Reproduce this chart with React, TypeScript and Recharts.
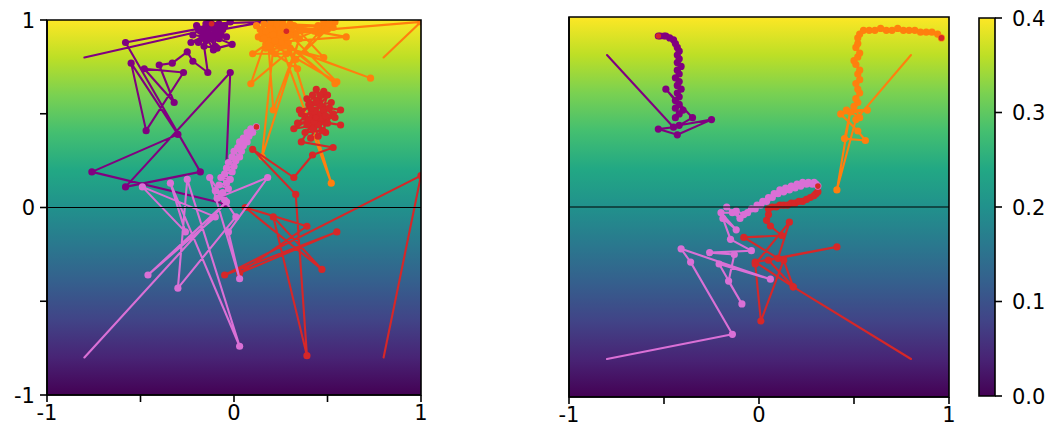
import { ReferenceArea, ReferenceLine, Scatter, ScatterChart, XAxis, YAxis } from 'recharts'

type Pt = { x: number; y: number }
const toPts = (a: number[][]): Pt[] => a.map(([x, y]) => ({ x, y }))

// axis ticks
const xTicks = [-1, -0.5, 0, 0.5, 1]
const xTickLabels = ['-1', '', '0', '', '1']
const yTicks = [-1, -0.5, 0, 0.5, 1]
const yTickLabels = ['-1', '', '0', '', '1']
const cbTicks = [0, 0.1, 0.2, 0.3, 0.4]
const cbTickLabels = ['0.0', '0.1', '0.2', '0.3', '0.4']

// left panel trajectories
const leftPurple = toPts([
  [-0.8, 0.8], [-0.18, 0.94], [-0.1, 0.97], [-0.58, 0.88], [-0.18, 0.19], [-0.58, 0.11],
  [-0.02, 0.72], [-0.05, 0.02], [-0.76, 0.19], [-0.3, 0.39], [-0.55, 0.77], [-0.47, 0.41],
  [-0.27, 0.72], [-0.48, 0.74], [-0.32, 0.56], [-0.4, 0.76], [-0.33, 0.77], [-0.25, 0.83],
  [-0.22, 0.78], [-0.14, 0.72], [-0.16, 0.86], [-0.09, 0.85], [-0.01, 0.87], [-0.13, 0.92],
  [-0.19, 0.88], [-0.06, 0.95], [0.16, 0.99], [-0.15, 0.98], [-0.22, 0.92], [-0.08, 0.9],
  [-0.12, 0.96], [-0.02, 0.99], [-0.17, 0.95], [-0.1, 0.86], [-0.14, 0.94], [-0.11, 0.91],
  [-0.2, 0.97], [-0.07, 0.93], [-0.15, 0.89], [-0.13, 0.99], [-0.09, 0.95], [-0.23, 0.88],
  [-0.04, 0.91], [-0.16, 0.93], [-0.11, 0.84], [-0.08, 0.98], [-0.19, 0.95], [-0.12, 0.9],
  [-0.14, 0.97], [-0.1, 0.93], [-0.05, 0.97], [-0.17, 0.91], [-0.12, 0.98],
])
const leftOrange = toPts([
  [0.8, 0.8], [1.0, 0.99], [0.27, 0.93], [0.2, 0.88], [0.6, 0.91], [0.25, 0.97], [0.55, 0.67],
  [0.15, 0.9], [0.73, 0.69], [0.3, 0.85], [0.52, 0.13], [0.22, 0.95], [0.15, 0.27], [0.35, 0.9],
  [0.21, 0.52], [0.18, 0.92], [0.09, 0.66], [0.28, 0.82], [0.1, 0.82], [0.32, 0.97], [0.48, 0.8],
  [0.24, 0.86], [0.5, 0.97], [0.19, 0.96], [0.45, 0.93], [0.33, 0.79], [0.54, 0.99], [0.26, 0.9],
  [0.34, 0.74], [0.17, 0.85], [0.29, 0.96], [0.47, 0.95], [0.23, 0.91], [0.54, 0.66], [0.21, 0.94],
  [0.14, 0.95], [0.2, 0.99], [0.25, 0.93], [0.17, 0.87], [0.22, 0.82], [0.29, 0.88], [0.13, 0.91],
  [0.19, 0.95], [0.26, 0.99], [0.31, 0.94], [0.16, 0.98], [0.23, 0.9], [0.2, 0.84], [0.27, 0.86],
  [0.15, 0.93], [0.24, 0.96], [0.18, 0.89], [0.3, 0.98], [0.21, 0.92], [0.12, 0.97], [0.28, 0.91],
  [0.17, 0.94], [0.25, 0.88], [0.33, 0.92], [0.19, 0.86], [0.23, 0.98], [0.45, 0.97], [0.5, 0.95],
  [0.48, 0.99], [0.53, 0.96], [0.43, 0.94], [0.51, 0.98], [0.27, 0.95], [0.16, 0.9], [0.3, 0.92],
  [0.26, 0.97], [0.22, 0.89], [0.28, 0.94],
])
const leftRed = toPts([
  [0.8, -0.8], [1.0, 0.17], [-0.05, -0.36], [0.55, -0.13], [0.03, -0.35], [0.39, -0.1], [0.06, 0.0],
  [0.47, -0.33], [0.21, -0.05], [0.39, -0.79], [0.33, 0.07], [0.1, 0.31], [0.32, 0.16], [0.42, 0.28],
  [0.53, 0.32], [0.36, 0.35], [0.45, 0.5], [0.32, 0.42], [0.5, 0.45], [0.38, 0.48], [0.47, 0.6],
  [0.42, 0.42], [0.57, 0.52], [0.4, 0.55], [0.44, 0.63], [0.49, 0.4], [0.35, 0.52], [0.52, 0.56],
  [0.46, 0.47], [0.41, 0.37], [0.48, 0.52], [0.39, 0.58], [0.45, 0.44], [0.5, 0.6], [0.43, 0.51],
  [0.46, 0.55], [0.34, 0.45], [0.54, 0.48], [0.42, 0.6], [0.47, 0.41], [0.38, 0.4], [0.51, 0.53],
  [0.44, 0.57], [0.4, 0.47], [0.57, 0.44], [0.43, 0.46], [0.48, 0.62], [0.36, 0.5], [0.49, 0.49],
  [0.41, 0.53], [0.45, 0.38], [0.53, 0.5], [0.39, 0.44], [0.46, 0.6], [0.44, 0.48],
])
const leftPink = toPts([
  [-0.8, -0.8], [-0.04, 0.03], [-0.46, -0.36], [-0.1, -0.05], [-0.49, 0.11], [-0.26, -0.13],
  [-0.34, 0.13], [0.03, -0.74], [-0.25, 0.15], [-0.3, -0.43], [0.01, -0.05], [-0.13, 0.16],
  [0.03, -0.38], [-0.03, -0.13], [0.18, 0.16], [-0.09, 0.05], [-0.05, 0.04], [-0.1, 0.09],
  [-0.06, 0.08], [-0.03, 0.1], [-0.08, 0.12], [-0.04, 0.13], [-0.07, 0.16], [-0.02, 0.15],
  [-0.05, 0.18], [-0.01, 0.19], [-0.04, 0.21], [0.0, 0.22], [-0.03, 0.24], [0.01, 0.25],
  [-0.01, 0.27], [0.03, 0.27], [0.0, 0.3], [0.04, 0.3], [0.02, 0.32], [0.05, 0.33], [0.03, 0.35],
  [0.07, 0.35], [0.05, 0.37], [0.08, 0.38], [0.07, 0.4], [0.1, 0.4], [0.09, 0.42], [0.12, 0.43],
])

// right panel trajectories
const rightPurple = toPts([
  [-0.8, 0.8], [-0.45, 0.42], [-0.53, 0.41], [-0.43, 0.38], [-0.25, 0.46], [-0.42, 0.43],
  [-0.35, 0.47], [-0.49, 0.62], [-0.4, 0.51], [-0.44, 0.47], [-0.42, 0.49], [-0.44, 0.52],
  [-0.42, 0.54], [-0.44, 0.56], [-0.42, 0.58], [-0.43, 0.6], [-0.41, 0.62], [-0.43, 0.64],
  [-0.42, 0.66], [-0.44, 0.68], [-0.42, 0.7], [-0.43, 0.72], [-0.41, 0.74], [-0.43, 0.76],
  [-0.42, 0.78], [-0.43, 0.8], [-0.42, 0.82], [-0.43, 0.84], [-0.44, 0.86], [-0.45, 0.88],
  [-0.47, 0.89], [-0.49, 0.9], [-0.5, 0.9], [-0.52, 0.9], [-0.53, 0.9],
])
const rightOrange = toPts([
  [0.8, 0.8], [0.51, 0.46], [0.41, 0.09], [0.48, 0.5], [0.45, 0.36], [0.56, 0.35], [0.52, 0.4],
  [0.43, 0.49], [0.57, 0.51], [0.46, 0.51], [0.53, 0.47], [0.5, 0.53], [0.52, 0.55], [0.51, 0.57],
  [0.53, 0.6], [0.52, 0.62], [0.51, 0.65], [0.53, 0.67], [0.52, 0.7], [0.53, 0.72], [0.51, 0.75],
  [0.5, 0.77], [0.52, 0.79], [0.53, 0.81], [0.51, 0.84], [0.52, 0.86], [0.52, 0.89], [0.53, 0.91],
  [0.55, 0.93], [0.58, 0.93], [0.61, 0.93], [0.64, 0.94], [0.67, 0.93], [0.7, 0.93], [0.73, 0.94],
  [0.76, 0.93], [0.79, 0.93], [0.82, 0.93], [0.85, 0.92], [0.88, 0.92], [0.91, 0.92],
  [0.94, 0.91], [0.96, 0.89],
])
const rightRed = toPts([
  [0.8, -0.8], [0.18, -0.42], [-0.02, -0.29], [0.41, -0.21], [0.05, -0.28], [0.18, -0.42],
  [0.13, -0.28], [0.01, -0.6], [-0.02, -0.3], [0.16, -0.08], [0.1, -0.27], [-0.08, -0.16],
  [0.12, -0.15], [0.06, -0.1], [0.04, -0.07], [0.05, -0.04], [0.05, -0.01], [0.07, 0.0],
  [0.09, 0.0], [0.11, 0.01], [0.13, 0.01], [0.15, 0.01], [0.17, 0.02], [0.19, 0.02], [0.21, 0.03],
  [0.23, 0.03], [0.25, 0.04], [0.27, 0.05], [0.29, 0.06], [0.3, 0.07], [0.31, 0.08],
])
const rightPink = toPts([
  [-0.8, -0.8], [-0.14, -0.67], [-0.36, -0.29], [-0.41, -0.22], [0.06, -0.38], [-0.21, -0.3],
  [-0.09, -0.51], [-0.16, -0.39], [-0.13, -0.25], [-0.26, -0.24], [-0.04, -0.23], [-0.15, -0.17],
  [-0.19, -0.06], [-0.12, -0.12], [-0.2, -0.03], [-0.14, -0.03], [-0.17, 0.0], [-0.1, -0.06],
  [-0.12, -0.02], [-0.08, -0.04], [-0.06, -0.03], [-0.04, -0.01], [-0.02, -0.01], [-0.01, 0.01],
  [0.01, 0.01], [0.02, 0.03], [0.04, 0.03], [0.05, 0.05], [0.07, 0.05], [0.08, 0.07], [0.1, 0.07],
  [0.11, 0.09], [0.13, 0.08], [0.14, 0.1], [0.16, 0.09], [0.17, 0.11], [0.19, 0.1], [0.2, 0.12],
  [0.22, 0.11], [0.23, 0.13], [0.25, 0.12], [0.26, 0.13], [0.28, 0.12], [0.29, 0.13], [0.3, 0.12],
  [0.31, 0.11],
])

const PURPLE = '#800080'
const ORANGE = '#ff7f0e'
const RED = '#d62728'
const PINK = '#da70d6'
const FONT = '"DejaVu Sans", sans-serif'
const FS = 21
const LINE_W = 2.1

const viridis = ['#fde725', '#bddf26', '#7ad151', '#44bf70', '#22a884', '#21918c', '#2a788e', '#355f8d', '#414487', '#482475', '#440154']

const markerShape = (color: string, data: Pt[]) => (props: any) => {
  const { cx, cy, payload, index } = props
  if (payload === data[0] || index === 0) return <g />
  const last = payload === data[data.length - 1]
  return (
    <g>
      <circle cx={cx} cy={cy} r={3.6} fill={color} stroke="none" />
      {last && <circle cx={cx} cy={cy} r={2.8} fill={RED} stroke="none" />}
    </g>
  )
}

// trajectory path through the points the scatter has already placed
const trackLine = (color: string) => (props: any) => {
  const pts = props.points || []
  if (!pts.length) return <g />
  return (
    <polyline
      points={pts.map((p: any) => `${p.x},${p.y}`).join(' ')}
      fill="none"
      stroke={color}
      strokeWidth={LINE_W}
      strokeLinejoin="round"
      strokeLinecap="round"
    />
  )
}

const XTick = (props: any) => {
  const { x, y, payload } = props
  const label = xTickLabels[xTicks.indexOf(payload.value)]
  if (!label) return <g />
  return (
    <text x={x} y={y} dy="0.71em" textAnchor="middle" fontSize={FS} fontFamily={FONT} fill="#000">
      {label}
    </text>
  )
}

const YTick = (props: any) => {
  const { x, y, payload } = props
  const label = yTickLabels[yTicks.indexOf(payload.value)]
  if (!label) return <g />
  return (
    <text x={x} y={y} dy="0.36em" textAnchor="end" fontSize={FS} fontFamily={FONT} fill="#000">
      {label}
    </text>
  )
}

const CbTick = (props: any) => {
  const { x, y, payload } = props
  const label = cbTickLabels[cbTicks.indexOf(payload.value)]
  return (
    <text x={x} y={y} dy="0.36em" textAnchor="start" fontSize={FS} fontFamily={FONT} fill="#000">
      {label}
    </text>
  )
}

type Series = { data: Pt[]; color: string }

function Panel({ left, top, width, height, margin, yWidth, xHeight, series, yLabels }: any) {
  return (
    <div style={{ position: 'absolute', left, top }}>
      <ScatterChart width={width} height={height} margin={margin}>
        <XAxis
          type="number"
          dataKey="x"
          domain={[-1, 1]}
          ticks={xTicks}
          allowDataOverflow
          height={xHeight}
          tickSize={7}
          tickMargin={3}
          axisLine={{ stroke: '#000', strokeWidth: 1.6 }}
          tickLine={{ stroke: '#000', strokeWidth: 1.6 }}
          tick={<XTick />}
        />
        <YAxis
          type="number"
          dataKey="y"
          domain={[-1, 1]}
          ticks={yTicks}
          allowDataOverflow
          width={yWidth}
          tickSize={7}
          tickMargin={5}
          axisLine={{ stroke: '#000', strokeWidth: 1.6 }}
          tickLine={{ stroke: '#000', strokeWidth: 1.6 }}
          tick={yLabels ? <YTick /> : false}
        />
        <ReferenceArea
          x1={-1}
          x2={1}
          y1={-1}
          y2={1}
          fill="url(#viridisGrad)"
          fillOpacity={1}
          stroke="none"
          zIndex={-500}
        />
        {series.map((s: Series, i: number) => (
          <Scatter
            key={i}
            data={s.data}
            fill={s.color}
            line={trackLine(s.color)}
            lineType="joint"
            shape={markerShape(s.color, s.data)}
            isAnimationActive={false}
          />
        ))}
        <ReferenceLine y={0} stroke="#000" strokeWidth={1} zIndex={1500} />
        <ReferenceArea
          x1={-1}
          x2={1}
          y1={-1}
          y2={1}
          fill="none"
          stroke="#000"
          strokeWidth={1.6}
          zIndex={1600}
        />
      </ScatterChart>
    </div>
  )
}

function ColorBar() {
  const cbData = cbTicks.map((v) => ({ x: 0.5, y: v }))
  return (
    <div style={{ position: 'absolute', left: 960, top: 0 }}>
      <ScatterChart width={93} height={433} margin={{ top: 18, right: 0, bottom: 37, left: 19 }}>
        <XAxis type="number" dataKey="x" domain={[0, 1]} hide />
        <YAxis
          type="number"
          dataKey="y"
          orientation="right"
          domain={[0, 0.4]}
          ticks={cbTicks}
          width={58}
          tickSize={7}
          tickMargin={10}
          axisLine={false}
          tickLine={{ stroke: '#000', strokeWidth: 1.6 }}
          tick={<CbTick />}
        />
        <ReferenceArea
          x1={0}
          x2={1}
          y1={0}
          y2={0.4}
          fill="url(#viridisGrad)"
          fillOpacity={1}
          stroke="#000"
          strokeWidth={1.6}
        />
        <Scatter data={cbData} shape={() => <g />} isAnimationActive={false} />
      </ScatterChart>
    </div>
  )
}

export default function App() {
  const leftSeries: Series[] = [
    { data: leftPurple, color: PURPLE },
    { data: leftOrange, color: ORANGE },
    { data: leftRed, color: RED },
    { data: leftPink, color: PINK },
  ]
  const rightSeries: Series[] = [
    { data: rightPurple, color: PURPLE },
    { data: rightOrange, color: ORANGE },
    { data: rightRed, color: RED },
    { data: rightPink, color: PINK },
  ]
  return (
    <div style={{ position: 'absolute', left: 0, top: 0, width: 1053, height: 433, background: '#fff' }}>
      <svg width={0} height={0} style={{ position: 'absolute' }}>
        <defs>
          <linearGradient id="viridisGrad" x1="0" y1="0" x2="0" y2="1">
            {viridis.map((c, i) => (
              <stop key={i} offset={i / (viridis.length - 1)} stopColor={c} />
            ))}
          </linearGradient>
        </defs>
      </svg>
      <Panel
        left={0}
        top={0}
        width={440}
        height={433}
        margin={{ top: 20, right: 19, bottom: 0, left: 0 }}
        yWidth={47}
        xHeight={38}
        series={leftSeries}
        yLabels
      />
      <Panel
        left={520}
        top={0}
        width={440}
        height={433}
        margin={{ top: 17, right: 11, bottom: 0, left: 0 }}
        yWidth={49}
        xHeight={36}
        series={rightSeries}
        yLabels={false}
      />
      <ColorBar />
    </div>
  )
}
